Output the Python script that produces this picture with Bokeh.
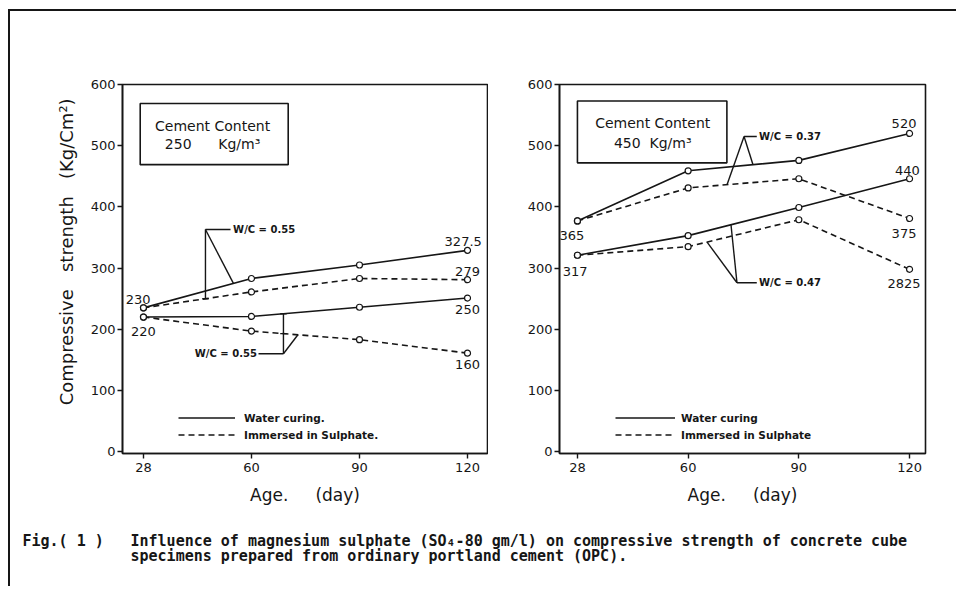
import numpy as np
from bokeh.plotting import figure
from bokeh.models import Range1d, FixedTicker, Legend, LegendItem, BoxAnnotation
from bokeh.layouts import column, row
from bokeh.embed import file_html
from bokeh.resources import INLINE

NB = "\u00a0"

# ---------------- data ----------------
AGES = [28, 60, 90, 120]
AGE_LABELS = ["28", "60", "90", "120"]
Y_TICKS = [0, 100, 200, 300, 400, 500, 600]

# Cement content 250 kg/m3
C250_WATER_A = [235, 283, 305, 329]
C250_SULPH_A = [235, 261, 283, 281]
C250_WATER_B = [220, 221, 236, 251]
C250_SULPH_B = [220, 197, 183, 161]
C250_LABELS = ["230", "220", "327.5", "279", "250", "160"]

# Cement content 450 kg/m3
C450_WATER_A = [377, 459, 476, 520]
C450_SULPH_A = [377, 431, 446, 381]
C450_WATER_B = [321, 353, 399, 446]
C450_SULPH_B = [321, 335, 379, 298]
C450_LABELS = ["365", "317", "520", "440", "375", "2825"]

WC_LEFT = ["W/C = 0.55", "W/C = 0.55"]
WC_RIGHT = ["W/C = 0.37", "W/C = 0.47"]
LEGEND_LEFT = ["Water curing.", "Immersed in Sulphate."]
LEGEND_RIGHT = ["Water curing", "Immersed in Sulphate"]
BOX_LEFT = ["Cement Content", "250" + NB * 6 + "Kg/m\u00b3"]
BOX_RIGHT = ["Cement Content", "450" + NB * 2 + "Kg/m\u00b3"]
Y_TITLE = NB * 6 + "Compressive" + NB * 3 + "strength" + NB * 3 + "(Kg/Cm\u00b2)"
X_TITLE = "Age." + NB * 5 + "(day)"
CAPTION_FIG = "Fig.( 1 )"
CAPTION_1 = "Influence of magnesium sulphate (SO\u2084-80 gm/l) on compressive strength of concrete cube"
CAPTION_2 = "specimens prepared from ordinary portland cement (OPC)."

INK = "#161616"
FONT = "DejaVu Sans"
IDX = list(range(len(AGES)))


def interp(series, x):
    return float(np.interp(x, IDX, series))


def make_panel(width, min_left, min_right, x_lo, x_hi, ytitle):
    p = figure(width=width, height=502, output_backend="svg", toolbar_location=None,
               x_range=Range1d(x_lo, x_hi), y_range=Range1d(-3, 600),
               min_border_left=min_left, min_border_right=min_right,
               min_border_top=73, min_border_bottom=60,
               background_fill_color="white", border_fill_color="white")
    p.grid.visible = False
    p.outline_line_color = INK
    p.outline_line_width = 1.6
    for ax in (p.xaxis[0], p.yaxis[0]):
        ax.axis_line_color = INK
        ax.axis_line_width = 1.6
        ax.major_tick_line_color = INK
        ax.major_tick_line_width = 1.4
        ax.major_tick_out = 5
        ax.major_tick_in = 0
        ax.minor_tick_line_color = None
        ax.major_label_text_font = FONT
        ax.major_label_text_font_size = "13px"
        ax.major_label_text_color = INK
        ax.axis_label_text_font = FONT
        ax.axis_label_text_font_size = "17px"
        ax.axis_label_text_font_style = "normal"
        ax.axis_label_text_color = INK
    p.xaxis.ticker = FixedTicker(ticks=IDX)
    p.xaxis.major_label_overrides = {i: AGE_LABELS[i] for i in IDX}
    p.xaxis.major_label_standoff = 4
    p.xaxis.axis_label = X_TITLE
    p.xaxis.axis_label_standoff = 10
    p.yaxis.ticker = FixedTicker(ticks=Y_TICKS)
    p.yaxis.major_label_standoff = 2
    if ytitle:
        p.yaxis.axis_label = ytitle
        p.yaxis.axis_label_standoff = 11
        p.yaxis.axis_label_text_font_size = "18px"
    return p


def draw_series(p, water_a, sulph_a, water_b, sulph_b):
    rs = []
    for ser, dash in ((water_a, "solid"), (sulph_a, "6 4"), (water_b, "solid"), (sulph_b, "6 4")):
        r = p.line(IDX, ser, line_color=INK, line_width=1.6, line_dash=dash)
        p.scatter(IDX, ser, marker="circle", size=6, fill_color="white",
                  line_color=INK, line_width=1.2)
        rs.append(r)
    return rs


def add_legend(p, rs, labels, glyph_w, standoff):
    leg = Legend(items=[LegendItem(label=labels[0], renderers=[rs[0]]),
                        LegendItem(label=labels[1], renderers=[rs[1]])],
                 location=(56, 10), orientation="vertical",
                 border_line_alpha=0, background_fill_alpha=0,
                 padding=0, margin=0, spacing=0,
                 glyph_width=glyph_w, glyph_height=17, label_height=17,
                 label_standoff=standoff, label_text_font=FONT,
                 label_text_font_size="10.5px", label_text_font_style="bold",
                 label_text_color=INK)
    p.add_layout(leg)


def add_box(p, left, right, bottom, top, lines, xc, y1, y2):
    p.add_layout(BoxAnnotation(left=left, right=right, bottom=bottom, top=top,
                               fill_alpha=0, line_color=INK, line_alpha=1.0,
                               line_width=1.6))
    p.text(x=[xc, xc], y=[y1, y2], text=lines, text_font_size="14px",
           text_align="center", text_baseline="middle", text_color=INK,
           text_font={"value": FONT})


def value_labels(p, xs, ys, texts):
    p.text(x=xs, y=ys, text=texts, text_font_size="13px", text_align="center",
           text_baseline="middle", text_color=INK, text_font={"value": FONT})


def leader(p, xs, ys):
    p.multi_line(xs=xs, ys=ys, line_color=INK, line_width=1.4)


def wc_text(p, x, y, t, align):
    p.text(x=[x], y=[y], text=[t], text_font_size="10px", text_align=align,
           text_baseline="middle", text_color=INK, text_font={"value": FONT},
           text_font_style="bold")


# ---------------- left panel ----------------
p1 = make_panel(478, 112, 1, -0.194, 3.185, Y_TITLE)
r1 = draw_series(p1, C250_WATER_A, C250_SULPH_A, C250_WATER_B, C250_SULPH_B)
add_legend(p1, r1, LEGEND_LEFT, 57, 9)
add_box(p1, -0.03, 1.34, 469, 569, BOX_LEFT, 0.64, 532, 502)

# upper W/C leader
cx, cy = 0.574, 363
leader(p1, [[cx, 0.806], [cx, cx], [cx - 0.03, cx + 0.03], [cx, 0.833]],
       [[cy, cy], [cy, interp(C250_SULPH_A, cx)],
        [interp(C250_SULPH_A, cx), interp(C250_SULPH_A, cx)],
        [cy, interp(C250_WATER_A, 0.833)]])
wc_text(p1, 0.83, cy, WC_LEFT[0], "left")
# lower W/C leader
cx2, cy2 = 1.296, 160
leader(p1, [[1.065, cx2], [cx2, cx2], [cx2 - 0.03, cx2 + 0.03], [cx2 - 0.03, cx2 + 0.03], [cx2, 1.43]],
       [[cy2, cy2], [cy2, interp(C250_WATER_B, cx2)],
        [interp(C250_WATER_B, cx2), interp(C250_WATER_B, cx2)],
        [interp(C250_SULPH_B, cx2), interp(C250_SULPH_B, cx2)],
        [cy2, interp(C250_SULPH_B, 1.43)]])
wc_text(p1, 1.05, cy2, WC_LEFT[1], "right")

value_labels(p1,
             [IDX[0] - 0.05, IDX[0] - 0.0, IDX[3] - 0.04, IDX[3] + 0.0, IDX[3] + 0.0, IDX[3] + 0.0],
             [C250_WATER_A[0] + 14, C250_WATER_B[0] - 24, C250_WATER_A[3] + 14,
              C250_SULPH_A[3] + 14, C250_WATER_B[3] - 19, C250_SULPH_B[3] - 19],
             C250_LABELS)

# ---------------- right panel ----------------
p2 = make_panel(468, 71, 31, -0.162, 3.144, None)
r2 = draw_series(p2, C450_WATER_A, C450_SULPH_A, C450_WATER_B, C450_SULPH_B)
add_legend(p2, r2, LEGEND_RIGHT, 60, 6)
add_box(p2, 0.0, 1.35, 472, 573, BOX_RIGHT, 0.68, 537, 505)

cx3, cy3 = 1.505, 515
leader(p2, [[cx3, 1.62], [cx3, 1.351], [cx3, 1.586]],
       [[cy3, cy3], [cy3, interp(C450_SULPH_A, 1.351)], [cy3, interp(C450_WATER_A, 1.586)]])
wc_text(p2, 1.64, cy3, WC_RIGHT[0], "left")
cx4, cy4 = 1.441, 276
leader(p2, [[cx4, 1.62], [cx4, 1.387], [cx4, 1.171]],
       [[cy4, cy4], [cy4, interp(C450_WATER_B, 1.387)], [cy4, interp(C450_SULPH_B, 1.171)]])
wc_text(p2, 1.64, cy4, WC_RIGHT[1], "left")

value_labels(p2,
             [IDX[0] - 0.05, IDX[0] - 0.02, IDX[3] - 0.05, IDX[3] - 0.02, IDX[3] - 0.05, IDX[3] - 0.05],
             [C450_WATER_A[0] - 24, C450_WATER_B[0] - 26, C450_WATER_A[3] + 16,
              C450_WATER_B[3] + 14, C450_SULPH_A[3] - 24, C450_SULPH_B[3] - 24],
             C450_LABELS)

# ---------------- caption ----------------
p3 = figure(width=946, height=73, output_backend="svg", toolbar_location=None,
            x_range=Range1d(0, 946), y_range=Range1d(73, 0), min_border=0,
            background_fill_color="white", border_fill_color="white")
p3.axis.visible = False
p3.grid.visible = False
p3.outline_line_color = None
cap_font = {"value": "DejaVu Sans Mono"}
p3.text(x=[12], y=[27], text=[CAPTION_FIG], text_font_size="15px", text_font=cap_font,
        text_font_style="bold", text_baseline="middle", text_color=INK)
p3.text(x=[120, 120], y=[27, 42], text=[CAPTION_1, CAPTION_2], text_font_size="15px",
        text_font=cap_font, text_font_style="bold", text_baseline="middle", text_color=INK)

layout = column(row(p1, p2), p3,
                styles={"border-left": "2px solid #161616", "border-top": "2px solid #161616",
                        "margin-left": "8px", "margin-top": "9px"})

open("out.html", "w").write(file_html(layout, INLINE))
